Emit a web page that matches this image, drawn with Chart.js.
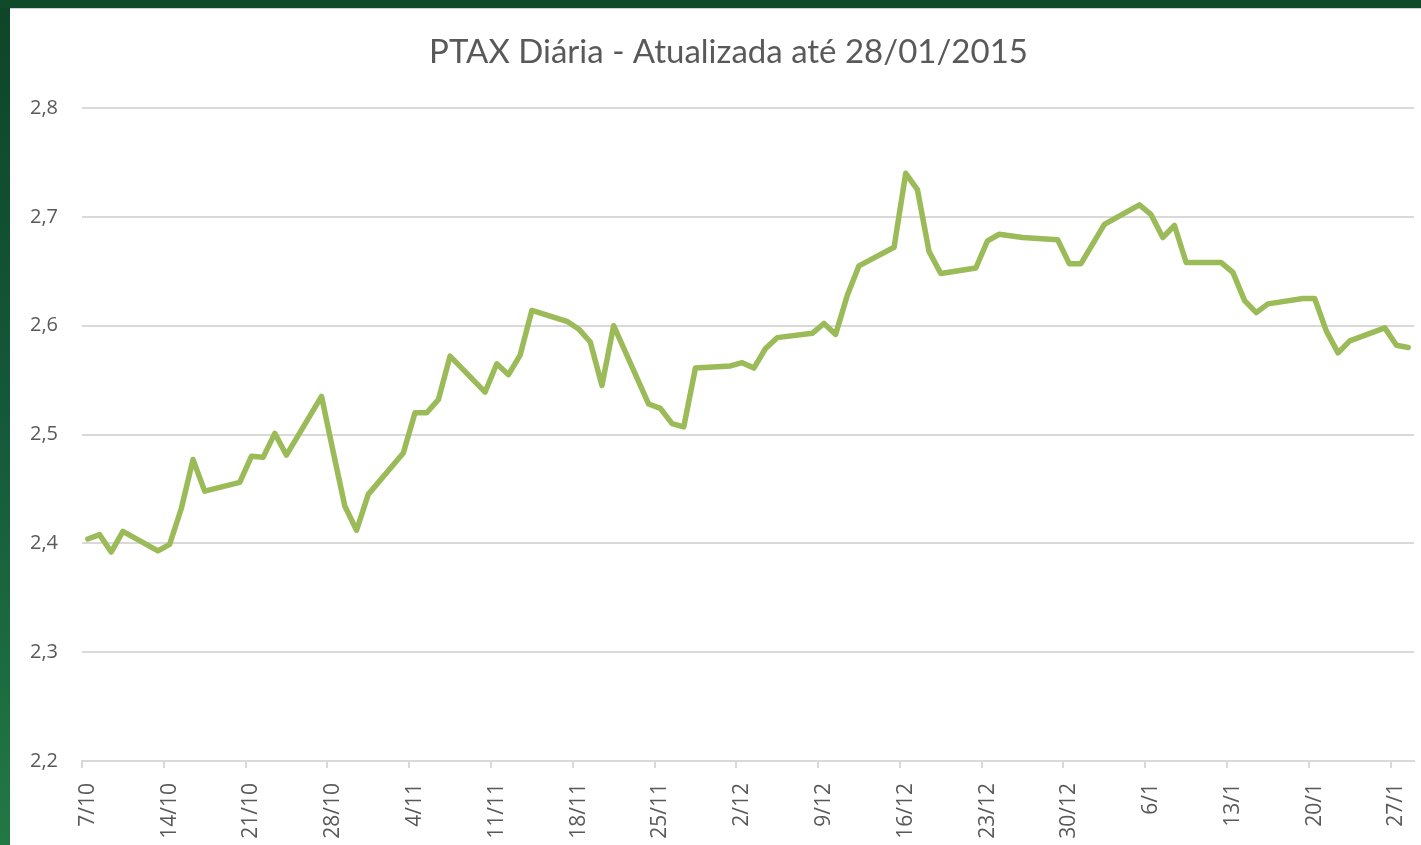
<!DOCTYPE html>
<html>
<head>
<meta charset="utf-8">
<script src="https://cdn.jsdelivr.net/npm/chart.js@4"></script>
<style>
  html, body { margin: 0; padding: 0; }
  body {
    width: 1421px; height: 845px; overflow: hidden; position: relative;
    background: linear-gradient(to bottom, #0e4527 0%, #15593a 50%, #227845 100%);
  }
  #panel {
    position: absolute; left: 10px; top: 8px; width: 1411px; height: 837px;
    background: #fff; border-top: 1px solid #d0d0d0; box-sizing: border-box;
  }
  #topband { position: absolute; left: 0; top: 0; width: 1421px; height: 8px; background: #0f4a2b; }
</style>
</head>
<body>
<div id="topband"></div>
<div id="panel"><canvas id="myChart"></canvas></div>
<script>
// PTAX (R$/US$), dias úteis de 07/10/2014 a 28/01/2015
const dates = [
  '7/10', '8/10', '9/10', '10/10', '13/10', '14/10', '15/10', '16/10', '17/10',
  '20/10', '21/10', '22/10', '23/10', '24/10', '27/10', '28/10', '29/10', '30/10', '31/10',
  '3/11', '4/11', '5/11', '6/11', '7/11', '10/11', '11/11', '12/11', '13/11', '14/11',
  '17/11', '18/11', '19/11', '20/11', '21/11', '24/11', '25/11', '26/11', '27/11', '28/11',
  '1/12', '2/12', '3/12', '4/12', '5/12', '8/12', '9/12', '10/12', '11/12', '12/12',
  '15/12', '16/12', '17/12', '18/12', '19/12', '22/12', '23/12', '24/12', '26/12',
  '29/12', '30/12', '31/12', '2/1', '5/1', '6/1', '7/1', '8/1', '9/1',
  '12/1', '13/1', '14/1', '15/1', '16/1', '19/1', '20/1', '21/1', '22/1', '23/1',
  '26/1', '27/1', '28/1'
];
const ptax = [
  2.404, 2.408, 2.392, 2.411, 2.393, 2.399, 2.432, 2.477, 2.448,
  2.456, 2.480, 2.479, 2.501, 2.481, 2.535, 2.484, 2.434, 2.412, 2.445,
  2.483, 2.520, 2.520, 2.532, 2.572, 2.539, 2.565, 2.555, 2.573, 2.614,
  2.604, 2.597, 2.585, 2.545, 2.600, 2.528, 2.524, 2.510, 2.507, 2.561,
  2.563, 2.566, 2.561, 2.579, 2.589, 2.593, 2.602, 2.592, 2.628, 2.655,
  2.672, 2.740, 2.725, 2.668, 2.648, 2.653, 2.678, 2.684, 2.681,
  2.679, 2.657, 2.657, 2.693, 2.711, 2.702, 2.681, 2.692, 2.658,
  2.658, 2.649, 2.623, 2.612, 2.620, 2.625, 2.625, 2.595, 2.575, 2.586,
  2.598, 2.582, 2.580
];
const xTickLabels = ['7/10', '14/10', '21/10', '28/10', '4/11', '11/11', '18/11', '25/11',
  '2/12', '9/12', '16/12', '23/12', '30/12', '6/1', '13/1', '20/1', '27/1'];
const yTicks = [2.2, 2.3, 2.4, 2.5, 2.6, 2.7, 2.8];
const titleText = 'PTAX Diária - Atualizada até 28/01/2015';

// eixo de datas: todos os dias corridos, sem valor nos fins de semana/feriados
const days = [];
const values = [];
const d = new Date(2014, 9, 7);
const end = new Date(2015, 0, 28);
while (d <= end) {
  const label = d.getDate() + '/' + (d.getMonth() + 1);
  days.push(label);
  const i = dates.indexOf(label);
  values.push(i >= 0 ? ptax[i] : null);
  d.setDate(d.getDate() + 1);
}

const ctx = document.getElementById('myChart');
const gridGray = '#d9d9d9';
const textGray = '#595959';

// marcas semanais entre os dias (estilo eixo de datas do Excel) + título
const excelBits = {
  id: 'excelBits',
  afterDraw(chart) {
    const c = chart.ctx;
    const x = chart.scales.x;
    const half = (x.getPixelForValue(1) - x.getPixelForValue(0)) / 2;
    c.save();
    c.strokeStyle = gridGray;
    c.lineWidth = 2;
    for (let i = 0; i < days.length; i += 7) {
      const px = Math.round(x.getPixelForValue(i) - half);
      c.beginPath();
      c.moveTo(px, x.top);
      c.lineTo(px, x.top + 7);
      c.stroke();
    }
    c.fillStyle = textGray;
    c.font = '33px Lato';
    c.textAlign = 'center';
    c.textBaseline = 'middle';
    c.fillText(titleText, chart.width / 2 + 13, 43);
    c.restore();
  }
};

new Chart(ctx, {
  type: 'line',
  data: {
    labels: days,
    datasets: [{
      label: 'PTAX',
      data: values,
      borderColor: '#9bbb59',
      borderWidth: 5.5,
      borderJoinStyle: 'round',
      borderCapStyle: 'round',
      pointRadius: 0,
      tension: 0,
      spanGaps: true
    }]
  },
  options: {
    responsive: true,
    maintainAspectRatio: false,
    animation: false,
    layout: { padding: { left: 0, right: 7, top: 99, bottom: 0 } },
    plugins: {
      legend: { display: false },
      tooltip: { enabled: false },
      title: { display: false }
    },
    scales: {
      x: {
        offset: true,
        grid: { display: false },
        border: { display: true, color: gridGray, width: 2 },
        ticks: {
          autoSkip: false,
          minRotation: 90,
          maxRotation: 90,
          padding: 14,
          color: textGray,
          font: { family: 'Open Sans', size: 21 },
          callback: (v, i) => (i % 7 === 0 ? xTickLabels[i / 7] : null)
        },
        afterFit: s => { s.height = 84; s.paddingLeft = 0; s.paddingRight = 0; }
      },
      y: {
        min: yTicks[0],
        max: yTicks[yTicks.length - 1],
        afterBuildTicks: s => { s.ticks = yTicks.map(v => ({ value: v })); },
        grid: { color: gridGray, lineWidth: 2, drawTicks: false },
        border: { display: false },
        ticks: {
          padding: 24,
          color: textGray,
          font: { family: 'Open Sans', size: 20 },
          callback: v => v.toFixed(1).replace('.', ',')
        },
        afterFit: s => { s.width = 72; }
      }
    }
  },
  plugins: [excelBits]
});
</script>
</body>
</html>
